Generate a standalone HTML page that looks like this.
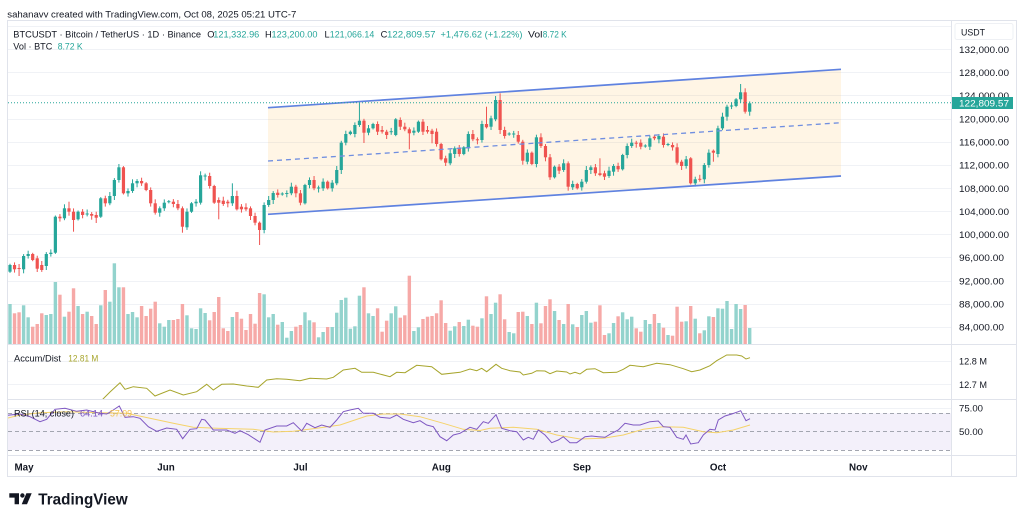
<!DOCTYPE html>
<html><head><meta charset="utf-8">
<style>
html,body{margin:0;padding:0;background:#fff;width:1024px;height:522px;overflow:hidden}
svg{display:block}
text{font-family:"Liberation Sans",Arial,sans-serif}
</style></head><body>
<svg width="1024" height="522" viewBox="0 0 1024 522" xmlns="http://www.w3.org/2000/svg">
<defs>
<clipPath id="cm"><rect x="8" y="21" width="943.5" height="323"/></clipPath>
<clipPath id="ca"><rect x="8" y="345" width="943.5" height="54"/></clipPath>
<clipPath id="cr"><rect x="8" y="400" width="943.5" height="55"/></clipPath>
</defs>
<rect width="1024" height="522" fill="#fff"/>

<text x="7.3" y="17.6" font-size="9.6" fill="#131722" textLength="289" lengthAdjust="spacingAndGlyphs">sahanavv created with TradingView.com, Oct 08, 2025 05:21 UTC-7</text>

<g stroke="#f0f2f6" stroke-width="1">
<line x1="8" x2="951.5" y1="26.5" y2="26.5"/>
<line x1="8" x2="951.5" y1="49.5" y2="49.5"/>
<line x1="8" x2="951.5" y1="72.5" y2="72.5"/>
<line x1="8" x2="951.5" y1="95.5" y2="95.5"/>
<line x1="8" x2="951.5" y1="119.5" y2="119.5"/>
<line x1="8" x2="951.5" y1="142.5" y2="142.5"/>
<line x1="8" x2="951.5" y1="165.5" y2="165.5"/>
<line x1="8" x2="951.5" y1="188.5" y2="188.5"/>
<line x1="8" x2="951.5" y1="211.5" y2="211.5"/>
<line x1="8" x2="951.5" y1="234.5" y2="234.5"/>
<line x1="8" x2="951.5" y1="257.5" y2="257.5"/>
<line x1="8" x2="951.5" y1="281.5" y2="281.5"/>
<line x1="8" x2="951.5" y1="304.5" y2="304.5"/>
<line x1="8" x2="951.5" y1="327.5" y2="327.5"/>
<line x1="8" x2="951.5" y1="361.5" y2="361.5"/>
<line x1="8" x2="951.5" y1="384.5" y2="384.5"/>
<line x1="8" x2="951.5" y1="408.5" y2="408.5"/>
</g>

<polygon points="268,107.7 841,69.3 841,176 268,214.3" fill="rgba(255,170,40,0.12)"/>

<g clip-path="url(#cm)">
<g id="vol"></g>
<g id="cdl"></g>
</g>

<g stroke="#5f82e0" fill="none">
<line x1="268" y1="107.7" x2="841" y2="69.3" stroke-width="1.7"/>
<line x1="268" y1="214.3" x2="841" y2="176" stroke-width="1.7"/>
<line x1="268" y1="161" x2="841" y2="122.7" stroke-width="1.3" stroke-dasharray="5 4" stroke="#6f8ee0"/>
</g>

<line x1="8" x2="951.5" y1="102.7" y2="102.7" stroke="#26a69a" stroke-width="1" stroke-dasharray="1 2"/>

<g font-size="9.3">
<text x="13.3" y="37.6" fill="#131722" textLength="187.7" lengthAdjust="spacingAndGlyphs">BTCUSDT · Bitcoin / TetherUS · 1D · Binance</text>
<text x="207.3" y="37.6" fill="#131722">O</text>
<text x="213.3" y="37.6" fill="#26a69a" textLength="46" lengthAdjust="spacingAndGlyphs">121,332.96</text>
<text x="265" y="37.6" fill="#131722">H</text>
<text x="271.5" y="37.6" fill="#26a69a" textLength="46" lengthAdjust="spacingAndGlyphs">123,200.00</text>
<text x="324.5" y="37.6" fill="#131722">L</text>
<text x="329.8" y="37.6" fill="#26a69a" textLength="44.5" lengthAdjust="spacingAndGlyphs">121,066.14</text>
<text x="380.6" y="37.6" fill="#131722">C</text>
<text x="387" y="37.6" fill="#26a69a" textLength="48.5" lengthAdjust="spacingAndGlyphs">122,809.57</text>
<text x="440.5" y="37.6" fill="#26a69a" textLength="82" lengthAdjust="spacingAndGlyphs">+1,476.62 (+1.22%)</text>
<text x="528" y="37.6" fill="#131722" textLength="14.5" lengthAdjust="spacingAndGlyphs">Vol</text>
<text x="542.7" y="37.6" fill="#26a69a" textLength="24" lengthAdjust="spacingAndGlyphs">8.72 K</text>
<text x="13.3" y="49.6" fill="#131722" textLength="39" lengthAdjust="spacingAndGlyphs">Vol · BTC</text>
<text x="57.7" y="49.6" fill="#26a69a" textLength="25" lengthAdjust="spacingAndGlyphs">8.72 K</text>
</g>

<g clip-path="url(#ca)">
<polyline fill="none" stroke="#a7a52c" stroke-width="1" points="95,412 102.7,399.3 110,392 120,382.7 125,389.3 133.3,386.7 146.7,388.3 155,396 170,390 183.3,395 196.7,391.7 206.7,384.3 213.3,390 221.7,384.3 233.3,384 246.7,386 258.3,387.3 266.7,380 276.7,378.7 286.7,379.3 300,380.7 310,378.3 326.7,379 333.3,377.3 343.3,370 355,368.3 361.7,372.3 373.3,372.3 390,376.7 396.7,372.3 405,372.7 416.7,365.3 431.7,366.7 441.7,374.3 460,372.3 470,369 476.7,370.7 481.7,368.3 486.7,371.7 496,364.3 501.7,368.3 510,370.7 520,372 523.3,375 531.7,373.3 536.7,370.7 545,371 550,373.7 556.7,371 566.7,372 570,374 575,372.3 580,374 586.7,369.3 595,368.7 603.3,372.7 616.7,372.3 623.3,369.3 630,365.3 643.3,366.7 656.7,363.3 670,364.7 683.3,368.7 691.7,371.7 700,370 710,365.7 716.7,360.7 726.7,355 736.7,355 741.7,356 746,359 750,357.7"/>
</g>
<text x="14" y="361.6" font-size="9.3" fill="#131722" textLength="47" lengthAdjust="spacingAndGlyphs">Accum/Dist</text>
<text x="68.3" y="361.6" font-size="9.3" fill="#a7a52c" textLength="30" lengthAdjust="spacingAndGlyphs">12.81 M</text>

<rect x="8" y="413.3" width="943.5" height="36.7" fill="#f3f0fa"/>
<g stroke="#a3a6b0" stroke-width="1" stroke-dasharray="4 3">
<line x1="8" x2="951.5" y1="413.5" y2="413.5"/>
<line x1="8" x2="951.5" y1="431.5" y2="431.5"/>
<line x1="8" x2="951.5" y1="450.5" y2="450.5"/>
</g>
<g clip-path="url(#cr)">
<polyline fill="none" stroke="#f5d36a" stroke-width="1" points="0,420 20,415 40,412.7 66.7,411.7 100,412.7 126.7,413.3 150,418.3 173.3,423.3 193.3,427.3 216.7,428.3 253.3,429.3 273.3,432 293.3,431.3 316.7,428.3 340,425 366.7,416 383.3,414 400,414 420,416.7 443.3,423.3 463.3,429.3 480,430.5 490,428.3 513.3,427.3 536.7,429.3 556.7,435 580,439 603.3,438.3 623.3,435 643.3,429.3 663.3,426.7 683.3,427.3 703.3,431.7 716.7,432.7 733.3,430 750,425"/>
<polyline fill="none" stroke="#7e57c2" stroke-width="1" points="0,416 10,415 20,414 30,416.7 40,421.7 46.7,419.3 55,409.3 65,408.3 76.7,411.3 86.7,410 100,413.3 106.7,414 113.3,410 119.3,406 125,417.3 133.3,416.7 140,418.3 148.3,426.7 156.7,431.3 166.7,428 176.7,429.3 182.7,438.7 190,429.3 196.7,428.7 201.7,419.3 205,420 213.3,430 226.7,430 235,433.3 240,430.7 248.3,434.7 260,442.3 265,430 276.7,426 286.7,426 293.3,422.7 301.7,431 306.7,423.3 315,427.7 321.7,425 330,427.3 336.7,420 343.3,411.7 350,410 358.3,408.3 363.3,413.3 373.3,413.3 380,417.3 390,418.3 396.7,415 403.3,419.3 413.3,422.7 420,420.7 426.7,425 433.3,426.7 440,436.7 446.7,440.7 453.3,435 460,433.3 466.7,429.3 470,427.3 476.7,429.3 483.3,421.7 488.3,423.3 496,414.7 501.7,428.3 510,430.7 516.7,431.7 523.3,440 528.3,437.3 533.3,439.3 538.3,430 545,435 551.7,442.7 558.3,440 563.3,436.7 570,442.7 576.7,442.7 585,436.7 591.7,436 598.3,436.7 605,437.3 611.7,433.3 618.3,430 625,423.3 633.3,425 640,425 650,421.7 658.3,421 663.3,426.7 670,427.3 676.7,437.3 683.3,439.3 686,435 690.7,444 698.3,442.7 703.3,435 710,429.3 715,430 718.3,420 725,416 731.7,414 738.3,411.7 740.7,410.7 746,420.7 750,418.7"/>
</g>
<text x="14" y="416.6" font-size="9.3" fill="#131722" textLength="60" lengthAdjust="spacingAndGlyphs">RSI (14, close)</text>
<text x="80" y="416.6" font-size="9.3" fill="#7e57c2" textLength="23" lengthAdjust="spacingAndGlyphs">64.14</text>
<text x="110" y="416.6" font-size="9.3" fill="#f2c14e" textLength="22" lengthAdjust="spacingAndGlyphs">57.09</text>

<g stroke="#e0e3eb" stroke-width="1" fill="none">
<rect x="7.5" y="20.5" width="1009" height="456"/>
<line x1="7.5" x2="1016.5" y1="344.5" y2="344.5"/>
<line x1="7.5" x2="1016.5" y1="399.5" y2="399.5"/>
<line x1="7.5" x2="1016.5" y1="455.5" y2="455.5"/>
<line x1="951.5" x2="951.5" y1="20.5" y2="476.5"/>
</g>

<rect x="955" y="23.5" width="58" height="16" rx="2" fill="#fff" stroke="#eef0f4"/>
<g font-size="9.5" fill="#131722">
<text x="961" y="35.5" textLength="24" lengthAdjust="spacingAndGlyphs">USDT</text>
<text x="959" y="52.8" textLength="50" lengthAdjust="spacingAndGlyphs">132,000.00</text>
<text x="959" y="76" textLength="50" lengthAdjust="spacingAndGlyphs">128,000.00</text>
<text x="959" y="99.1" textLength="50" lengthAdjust="spacingAndGlyphs">124,000.00</text>
<text x="959" y="122.3" textLength="50" lengthAdjust="spacingAndGlyphs">120,000.00</text>
<text x="959" y="145.5" textLength="50" lengthAdjust="spacingAndGlyphs">116,000.00</text>
<text x="959" y="168.6" textLength="50" lengthAdjust="spacingAndGlyphs">112,000.00</text>
<text x="959" y="191.8" textLength="50" lengthAdjust="spacingAndGlyphs">108,000.00</text>
<text x="959" y="214.9" textLength="50" lengthAdjust="spacingAndGlyphs">104,000.00</text>
<text x="959" y="238.1" textLength="50" lengthAdjust="spacingAndGlyphs">100,000.00</text>
<text x="959" y="261.2" textLength="45" lengthAdjust="spacingAndGlyphs">96,000.00</text>
<text x="959" y="284.4" textLength="45" lengthAdjust="spacingAndGlyphs">92,000.00</text>
<text x="959" y="307.5" textLength="45" lengthAdjust="spacingAndGlyphs">88,000.00</text>
<text x="959" y="330.7" textLength="45" lengthAdjust="spacingAndGlyphs">84,000.00</text>
<text x="959" y="364.4" textLength="28" lengthAdjust="spacingAndGlyphs">12.8 M</text>
<text x="959" y="388" textLength="28" lengthAdjust="spacingAndGlyphs">12.7 M</text>
<text x="959" y="411.6" textLength="24" lengthAdjust="spacingAndGlyphs">75.00</text>
<text x="959" y="435" textLength="24" lengthAdjust="spacingAndGlyphs">50.00</text>
</g>
<rect x="952" y="97" width="61" height="12" fill="#26a69a"/>
<text x="959" y="106.4" font-size="9.5" fill="#fff" textLength="50" lengthAdjust="spacingAndGlyphs">122,809.57</text>

<g font-size="9.8" font-weight="bold" fill="#131722" text-anchor="middle">
<text x="24" y="470.6">May</text>
<text x="166" y="470.6">Jun</text>
<text x="300.5" y="470.6">Jul</text>
<text x="441.3" y="470.6">Aug</text>
<text x="582" y="470.6">Sep</text>
<text x="718" y="470.6">Oct</text>
<text x="858.3" y="470.6">Nov</text>
</g>

<g fill="#131722">
<polygon points="9.3,493.3 19,493.3 19,504.3 14.6,504.3 14.6,497.6 9.3,497.6"/>
<circle cx="22.4" cy="495.5" r="2.2"/>
<polygon points="26.4,493.3 31.7,493.3 27,504.3 21.7,504.3"/>
</g>
<text x="38.3" y="504.4" font-size="15.3" font-weight="bold" fill="#131722" textLength="89.4" lengthAdjust="spacingAndGlyphs">TradingView</text>
</svg>
<script>
(function(){
var D=[
[1,265,271.7],[0,265,269.3],[3,268,269,0,276],[1,256,269.3],[1,254,256],[0,254,260],[0,258.3,268.7],[0,265,270],[1,254,266],[1,252.7,254],
[1,216.7,252.7],[0,216.7,218.3],[1,208.3,218.3],[0,208.3,211.7,201.7],[0,211.7,220,0,231.7],[1,211.7,219.3],[0,211.7,215],[2,213.5,214.5],[0,214,215.7],[0,215,217.7,0,223],
[1,198.3,216.7],[0,198.3,203.3],[1,196,203.3],[1,180,196],[1,167.3,180],[0,167.3,193.3],[1,191,193.3],[1,183.3,191],[1,181,183.3],[0,181,183.3],
[0,183.3,190],[0,190,203.3],[0,203.3,212.7],[1,208.3,212.7],[1,202.7,208.3],[2,201.2,202.2],[0,201.7,204],[0,204,208.3],[0,208.3,226.7,0,232.7],[1,211.7,227.3],
[1,203.3,211.7],[1,201.7,203.3],[1,175.3,202.7],[2,175.5,176.5],[0,176,186],[0,186,202.7],[0,200,202.7,0,219.3],[0,200.7,204],[0,201.7,203.3],[1,196,203.3,183.3],
[0,196,209.3,190.7],[0,206.7,209.3],[0,207.3,209.3],[0,208.3,216],[0,216,222.7],[0,222.7,230,0,245],[1,205,230],[1,200,205],[1,193,200],[0,192.7,195],
[2,193.5,194.5],[2,193,194],[1,186.7,193.3],[0,186.7,193.3],[0,193.3,202.7],[1,185,203.3],[1,180,185],[0,180,188.3],[2,187.5,188.5],[1,181.7,188.3],
[0,181.7,188.3],[1,182.7,188.3],[1,170,183.3],[1,142.7,170],[1,134,142.7],[1,131.7,134],[1,125,134],[1,120.7,125,102.7],[0,120.7,132.7,0,143],[1,128.3,132.7],
[1,124,128.3],[0,124,131.7],[0,130,131.7],[0,131.7,135],[2,131.2,132.2],[1,119.3,135],[0,120,126.7],[0,126.7,129.3],[0,129.3,133.3,0,149.3],[1,130.7,132.7],
[1,121.7,131.7],[0,121.7,131.7],[0,130,131.7],[0,130.7,134,0,143.3],[0,131.7,144],[0,144,159.3],[0,158.3,162.7],[1,153.3,163.3],[1,148.3,154],[0,148.3,154],
[1,147.3,154],[1,134,148.3],[0,134,139.3],[0,139.3,140.3],[1,124,140],[0,124,127.3,106.7],[1,118.3,126.7],[1,100,119.3],[0,100,130,93.3],[0,130,136],
[2,133.5,134.5],[2,133.5,134.5],[0,135,141.7],[0,141.7,160.7],[1,152.7,161.7],[0,152.7,164],[1,137.3,164],[0,137.3,146],[0,146,157.3],[0,157.3,177.3],
[1,166.7,177.3],[0,166.7,170.7],[1,163.3,170],[0,163.3,186.7],[1,184,187.3],[0,184,188.3],[1,181.7,187.3],[1,170,181.7],[1,167.3,170],[0,167.3,173.3],
[0,173.3,175,158.3],[0,173.3,176.7],[1,170.7,176],[1,166,171.7],[0,166,169.3],[1,155,169.3],[1,146,155],[1,142.7,146],[3,142.7,143.7],[0,142.7,146.7],
[2,145.5,146.5],[1,138.3,146.7],[3,136.7,138.3,135],[1,136,139.3],[0,136.7,145],[2,144,145],[0,145,147.3],[0,147.3,162.7],[0,161.7,166],[1,159.3,166],
[0,158.3,183.3],[1,179.3,183.3],[3,178.8,179.8],[1,165,179.3],[1,152.7,165],[0,150.7,152.7,0,161.7],[1,128.3,154],[1,116.7,128.3],[1,106.7,116.7],[2,105.5,106.5],
[1,99.3,106],[1,92.3,99.3,84],[0,92.3,111.7],[1,103.3,111.7]
];
var V=[304,313.3,312.3,305.3,317.3,326.7,324,313.3,315,314,
282,294.7,316.7,311.7,288.3,306,314,311.7,316,324,
305.3,290,301.7,263.3,287.3,287.3,314,312,317.3,306,
316,308.7,301.7,323.3,326.7,320,320,319,304,315.3,
328.3,329,308.3,313,320.3,312,297,328.3,331,317,
312,318.7,330,314,323.7,293,294.3,317.3,314,324.7,
322,337.7,331,326.7,325,312.3,320.3,322.3,337.3,332,
327,327,312.7,300,297.7,328.7,326.3,295.7,287.3,313.3,
316,308.3,331.7,320.7,313.3,306.3,317.7,315.3,275.7,331,
327.3,319,316.7,316,313.3,300.3,323,330.7,326.3,322,
326,319.7,325.7,326.7,318.3,296.3,314,302.7,294.3,319.3,
332,333.3,312,311.7,316,324,302.7,323.3,306,299.3,
311,320,324,304,324.3,327,315,311,322.7,321.7,
305.3,335,333.3,323,316.3,312.3,319.3,316.7,328.3,331.7,
320,324,314,323,327.7,335,335.7,306.7,321.7,321.3,
306,318.7,333.3,330.3,316.3,317,308.3,308.7,301,329,
304,309,305,328];
var NS="http://www.w3.org/2000/svg";
var gv=document.getElementById("vol"),gc=document.getElementById("cdl");
function mk(tag,attrs,parent){var e=document.createElementNS(NS,tag);for(var k in attrs){e.setAttribute(k,attrs[k]);}parent.appendChild(e);return e;}
for(var i=0;i<D.length;i++){
 var d=D[i],x=10+i*4.538,g=(d[0]==1||d[0]==2);
 var col=g?"#26a69a":"#ef5350",vc=g?"#93d3cd":"#f6a9a7";
 var vt=V[i]||330;
 mk("rect",{x:(x-1.7).toFixed(2),y:vt,width:3.4,height:(344-vt).toFixed(2),fill:vc},gv);
 var t=d[1],b=d[2];if(b-t<1){b=t+1;}
 var hi=d[3]||(t-(1.2+((i*37)%5)*0.7)),lo=d[4]||(b+(1.2+((i*53)%5)*0.7));
 mk("line",{x1:x.toFixed(2),x2:x.toFixed(2),y1:hi.toFixed(2),y2:lo.toFixed(2),stroke:col,"stroke-width":1},gc);
 mk("rect",{x:(x-1.6).toFixed(2),y:t,width:3.2,height:(b-t).toFixed(2),fill:col},gc);
}
})();
</script>
</body></html>
